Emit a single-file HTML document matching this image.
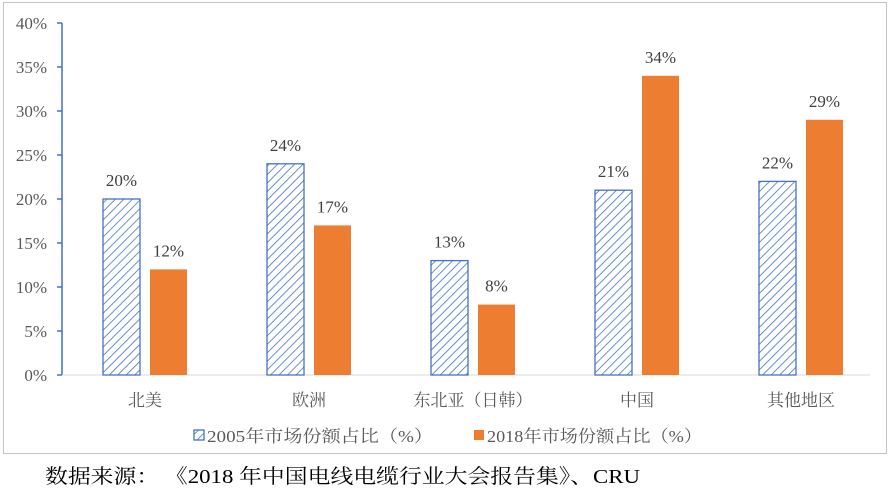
<!DOCTYPE html>
<html><head><meta charset="utf-8"><style>
body{margin:0;background:#fff;width:891px;height:499px;overflow:hidden}
svg text{font-family:"Liberation Serif","Noto Serif CJK SC",serif}
</style></head><body>
<svg width="891" height="499">
<defs><pattern id="hatch" patternUnits="userSpaceOnUse" width="6" height="6" patternTransform="rotate(45)">
<rect width="6" height="6" fill="#fff"/><line x1="0" y1="0" x2="0" y2="6" stroke="#4472c4" stroke-width="1.6"/></pattern></defs>
<rect x="3.5" y="2.5" width="883" height="451" fill="none" stroke="#888" stroke-dasharray="1,1"/>
<g id="axes"></g><g id="bars"></g>
<g>
<rect x="194" y="430" width="10" height="10" fill="url(#hatch)" stroke="#4472c4" stroke-width="1.3"/>
<text x="207" y="442" font-size="17" fill="#595959" textLength="226" lengthAdjust="spacingAndGlyphs">2005年市场份额占比（%）</text>
<rect x="474" y="430" width="10" height="10" fill="#ed7d31"/>
<text x="487" y="442" font-size="17" fill="#595959" textLength="215" lengthAdjust="spacingAndGlyphs">2018年市场份额占比（%）</text>
</g>
<text x="45" y="483" font-size="20" fill="#000" textLength="595" lengthAdjust="spacingAndGlyphs">数据来源： 《2018 年中国电线电缆行业大会报告集》、CRU</text>
</svg>
<script>
const categories=["北美","欧洲","东北亚（日韩）","中国","其他地区"];
const s2005=[20,24,13,21,22];
const s2018=[12,17,8,34,29];
const ticks=[0,5,10,15,20,25,30,35,40];
const NS="http://www.w3.org/2000/svg";
const x0=62,x1=870,y0=375,yTop=23,maxV=40;
const y=v=>y0-(v/maxV)*(y0-yTop);
const cw=164,c0=145;
const cx=i=>c0+cw*i;
function mk(t,a,p,txt){const e=document.createElementNS(NS,t);for(const k in a)e.setAttribute(k,a[k]);if(txt!=null)e.textContent=txt;p.appendChild(e);return e;}
const ax=document.getElementById('axes'),bg=document.getElementById('bars');
let l=mk('line',{x1:x0,y1:yTop,x2:x0,y2:y0,stroke:'#4472c4','stroke-width':1.5},ax);


l=mk('line',{x1:x0,y1:y0,x2:x1,y2:y0,stroke:'#d9d9d9','stroke-width':1},ax);


ticks.forEach(t=>{
 const tk=mk('line',{x1:x0-5,y1:y(t),x2:x0,y2:y(t),stroke:'#4472c4','stroke-width':1.5},ax);
 
 
 const tl=mk('text',{x:x0-15,y:y(t)+6,'text-anchor':'end','font-size':17,fill:'#595959'},ax,t+'%');
 
 
});
const bw=37;
categories.forEach((c,i)=>{
 const cl=mk('text',{x:cx(i),y:406,'text-anchor':'middle','font-size':17,fill:'#595959'},ax,c);
 
 
 const xa=cx(i)-42,xb=cx(i)+5;
 const b1=mk('rect',{x:xa,y:y(s2005[i]),width:bw,height:y0-y(s2005[i]),fill:'url(#hatch)',stroke:'#4472c4','stroke-width':1.3},bg);
 
 
 const b2=mk('rect',{x:xb,y:y(s2018[i]),width:bw,height:y0-y(s2018[i]),fill:'#ed7d31'},bg);
 
 
 const v1=mk('text',{x:xa+bw/2,y:y(s2005[i])-13,'text-anchor':'middle','font-size':17,fill:'#404040'},bg,s2005[i]+'%');
 
 
 const v2=mk('text',{x:xb+bw/2,y:y(s2018[i])-13,'text-anchor':'middle','font-size':17,fill:'#404040'},bg,s2018[i]+'%');
 
 
});
</script>
</body></html>
